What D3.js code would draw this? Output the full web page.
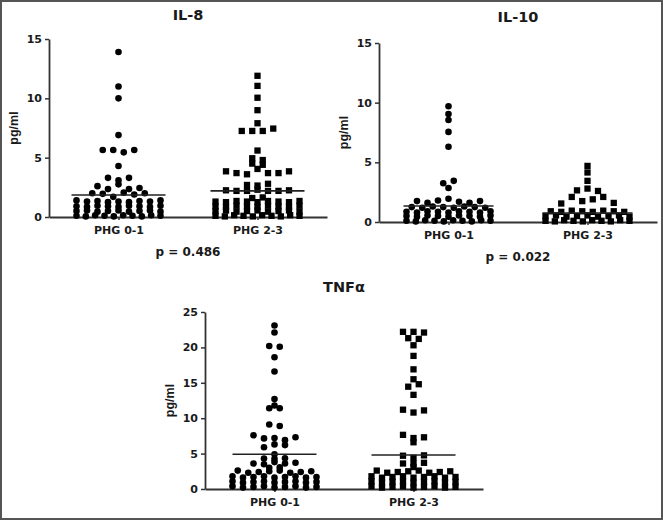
<!DOCTYPE html>
<html>
<head>
<meta charset="utf-8">
<script src="https://cdn.jsdelivr.net/npm/d3@7"></script>
<style>
  html, body { margin: 0; padding: 0; background: #fff; }
  svg { display: block; }
  .lab { font-family: "DejaVu Sans", sans-serif; font-weight: bold; fill: #1a1a1a; }
</style>
</head>
<body>
<svg id="chart" width="663" height="520"></svg>
<script>
const categories = ["PHG 0-1", "PHG 2-3"];

// IL-8, pg/ml
const il8Phg01 = [
  13.9, 11.0, 10.0, 6.9,
  5.65, 5.65, 5.45, 5.65,
  4.3,
  3.3, 3.1, 3.3,
  2.6, 2.35, 2.75, 2.35, 2.45,
  2.0, 1.95, 1.7, 2.05, 1.9, 2.0,
  1.4, 1.3, 1.35, 1.25, 1.3, 1.25, 1.35, 1.3, 1.4,
  0.9, 0.85, 0.95, 0.9, 0.85, 0.95, 0.9, 0.85, 0.95,
  0.5, 0.55, 0.45, 0.5, 0.55, 0.45, 0.5, 0.55, 0.45,
  0.1, 0.05, 0.15, 0.1, 0.05, 0.15, 0.1, 0.05, 0.15, 0.1
];
const il8Phg23 = [
  11.9, 11.05, 10.05, 9.0, 7.9,
  7.25, 7.25, 7.25, 7.45,
  5.6,
  4.95, 4.8,
  4.5, 4.4,
  3.85, 3.7, 3.6, 4.05, 3.7, 3.7, 3.85,
  2.7, 2.65, 2.8,
  2.25, 2.2, 2.2, 2.3, 2.2, 2.2, 2.25,
  1.6, 1.65,
  1.3, 1.25, 1.35, 1.3, 1.25, 1.35, 1.3, 1.25, 1.35,
  0.9, 0.85, 0.95, 0.9, 0.85, 0.95, 0.9, 0.85, 0.95,
  0.5, 0.55, 0.45, 0.5, 0.55, 0.45, 0.5, 0.55, 0.45,
  0.1, 0.05, 0.15, 0.1, 0.05, 0.15, 0.1, 0.05, 0.15, 0.1
];
const il8Means = [1.85, 2.2];

// IL-10, pg/ml
const il10Phg01 = [
  9.7, 9.05, 8.55, 7.55, 6.3,
  3.25, 3.45,
  2.85,
  1.75, 1.6, 1.8, 1.95, 1.7, 1.6, 1.75,
  1.25, 1.2, 1.3, 1.25, 1.2, 1.3, 1.25, 1.2,
  0.85, 0.8, 0.9, 0.85, 0.8, 0.9, 0.85, 0.8, 0.9,
  0.5, 0.45, 0.55, 0.5, 0.45, 0.55, 0.5, 0.45, 0.55,
  0.1, 0.05, 0.15, 0.1, 0.05, 0.15, 0.1, 0.05, 0.15, 0.1
];
const il10Phg23 = [
  4.7, 4.15, 3.45,
  2.65, 2.8, 2.6,
  1.55, 2.1, 1.75, 1.9, 2.1, 1.6,
  0.9, 0.85, 0.95, 0.9, 0.85, 0.95, 0.9, 0.85,
  0.5, 0.55, 0.45, 0.5, 0.55, 0.45, 0.5, 0.55, 0.45,
  0.1, 0.05, 0.15, 0.1, 0.05, 0.15, 0.1, 0.05, 0.15, 0.1
];
const il10Means = [1.34, 0.75];

// TNF-alpha, pg/ml
const tnfPhg01 = [
  23.1, 22.1,
  20.2, 20.1,
  18.6, 16.6, 12.7,
  11.8, 11.4, 11.4,
  9.1, 8.9,
  7.6, 7.15, 7.2, 6.9, 7.3,
  5.9, 6.3, 6.2,
  4.9,
  4.3, 4.25, 4.35,
  3.6, 3.5, 3.8, 3.6, 3.7,
  3.0, 3.05,
  2.6, 2.3, 2.4, 2.5, 2.6, 2.3, 2.4, 2.5,
  1.8, 1.6, 1.7, 1.8, 1.6, 1.7, 1.8, 1.6, 1.7,
  1.1, 0.9, 1.0, 1.1, 0.9, 1.0, 1.1, 0.9, 1.0,
  0.4, 0.2, 0.3, 0.4, 0.2, 0.3, 0.4, 0.2, 0.3
];
const tnfPhg23 = [
  22.2, 22.2, 22.1,
  21.3, 21.2,
  20.3, 18.8, 16.9, 15.5,
  14.45, 14.8,
  13.3,
  11.2, 10.8, 11.1,
  7.65, 7.2, 7.3,
  6.6,
  4.7, 4.4, 4.75,
  3.6, 3.6, 3.7,
  3.1,
  2.6, 2.3, 2.4, 2.5, 2.6, 2.3, 2.4, 2.5,
  1.8, 1.6, 1.7, 1.8, 1.6, 1.7, 1.8, 1.6, 1.7,
  1.1, 0.9, 1.0, 1.1, 0.9, 1.0, 1.1, 0.9, 1.0,
  0.4, 0.2, 0.3, 0.4, 0.2, 0.3, 0.4, 0.2, 0.3
];
const tnfMeans = [4.9, 4.8];

const ilTicks = [0, 5, 10, 15];
const tnfTicks = [0, 5, 10, 15, 20, 25];
const pValues = ["p = 0.486", "p = 0.022"];

const panels = [
  { title: "IL-8", groups: [il8Phg01, il8Phg23], means: il8Means, ticks: ilTicks, p: pValues[0],
    x0: 49, x1: 327, yTop: 39, yBot: 217, titleY: 20, pY: 256, meanHalf: 47 },
  { title: "IL-10", groups: [il10Phg01, il10Phg23], means: il10Means, ticks: ilTicks, p: pValues[1],
    x0: 379, x1: 657, yTop: 43, yBot: 222, titleY: 22, pY: 261, meanHalf: 45 },
  { title: "TNFα", groups: [tnfPhg01, tnfPhg23], means: tnfMeans, ticks: tnfTicks, p: null,
    x0: 205, x1: 483, yTop: 312, yBot: 489, titleY: 292, pY: null, meanHalf: 42 }
];

const svg = d3.select("#chart");
svg.append("rect").attr("width", 663).attr("height", 520).attr("fill", "#fff");

const rowGap = 2.8, spacing = 10.5, maxHalf = 42, r = 3.3, sq = 6.3;

// group values into horizontal rows (GraphPad-like scatter), spread around category centre
function swarm(values, y, cx) {
  const sorted = values.map((v, i) => ({ v, i })).sort((a, b) => b.v - a.v || a.i - b.i);
  const rows = [];
  sorted.forEach(d => {
    const row = rows[rows.length - 1];
    if (row && y(d.v) - y(row[row.length - 1].v) < rowGap) row.push(d);
    else rows.push([d]);
  });
  const out = [];
  rows.forEach(row => {
    row.sort((a, b) => a.i - b.i);
    const n = row.length;
    const s = n > 1 ? Math.min(spacing, 2 * maxHalf / (n - 1)) : 0;
    row.forEach((d, k) => out.push({ v: d.v, x: cx + (k - (n - 1) / 2) * s }));
  });
  return out;
}

panels.forEach(p => {
  const x = d3.scalePoint().domain(categories).range([p.x0, p.x1]).padding(0.5);
  const y = d3.scaleLinear().domain([0, d3.max(p.ticks)]).range([p.yBot, p.yTop]);
  const g = svg.append("g");

  const yAxis = g.append("g")
    .attr("transform", `translate(${p.x0},0)`)
    .call(d3.axisLeft(y).tickValues(p.ticks).tickSize(4).tickSizeOuter(0).tickPadding(3));
  const xAxis = g.append("g")
    .attr("transform", `translate(0,${p.yBot})`)
    .call(d3.axisBottom(x).tickSize(3).tickSizeOuter(0).tickPadding(6));

  [yAxis, xAxis].forEach(a => {
    a.select(".domain").attr("stroke", "#333").attr("stroke-width", 1.8);
    a.selectAll(".tick line").attr("stroke", "#333").attr("stroke-width", 1.5);
    a.selectAll(".tick text").attr("class", "lab").attr("font-size", 11).attr("fill", "#1a1a1a");
  });

  g.append("text").attr("class", "lab")
    .attr("x", (p.x0 + p.x1) / 2).attr("y", p.titleY)
    .attr("text-anchor", "middle").attr("font-size", 14.5).text(p.title);

  g.append("text")
    .attr("transform", `translate(${p.x0 - 31},${(p.yTop + p.yBot) / 2}) rotate(-90)`)
    .attr("text-anchor", "middle")
    .attr("font-family", "'Liberation Sans', Arial, sans-serif").attr("font-weight", "bold")
    .attr("font-size", 12.5).attr("fill", "#1a1a1a").text("pg/ml");

  if (p.p) {
    g.append("text").attr("class", "lab")
      .attr("x", (p.x0 + p.x1) / 2).attr("y", p.pY)
      .attr("text-anchor", "middle").attr("font-size", 12).text(p.p);
  }

  p.groups.forEach((vals, gi) => {
    const cx = x(categories[gi]);
    const pts = swarm(vals, y, cx);
    if (gi === 0) {
      g.append("g").selectAll("circle").data(pts).join("circle")
        .attr("cx", d => d.x).attr("cy", d => y(d.v)).attr("r", r).attr("fill", "#000");
    } else {
      g.append("g").selectAll("rect").data(pts).join("rect")
        .attr("x", d => d.x - sq / 2).attr("y", d => y(d.v) - sq / 2)
        .attr("width", sq).attr("height", sq).attr("fill", "#000");
    }
    g.append("line")
      .attr("x1", cx - p.meanHalf).attr("x2", cx + p.meanHalf)
      .attr("y1", y(p.means[gi])).attr("y2", y(p.means[gi]))
      .attr("stroke", "#222").attr("stroke-width", 1.6);
  });
});

svg.append("rect").attr("x", 1).attr("y", 1).attr("width", 661).attr("height", 518)
  .attr("fill", "none").attr("stroke", "#555").attr("stroke-width", 2);
</script>
</body>
</html>
